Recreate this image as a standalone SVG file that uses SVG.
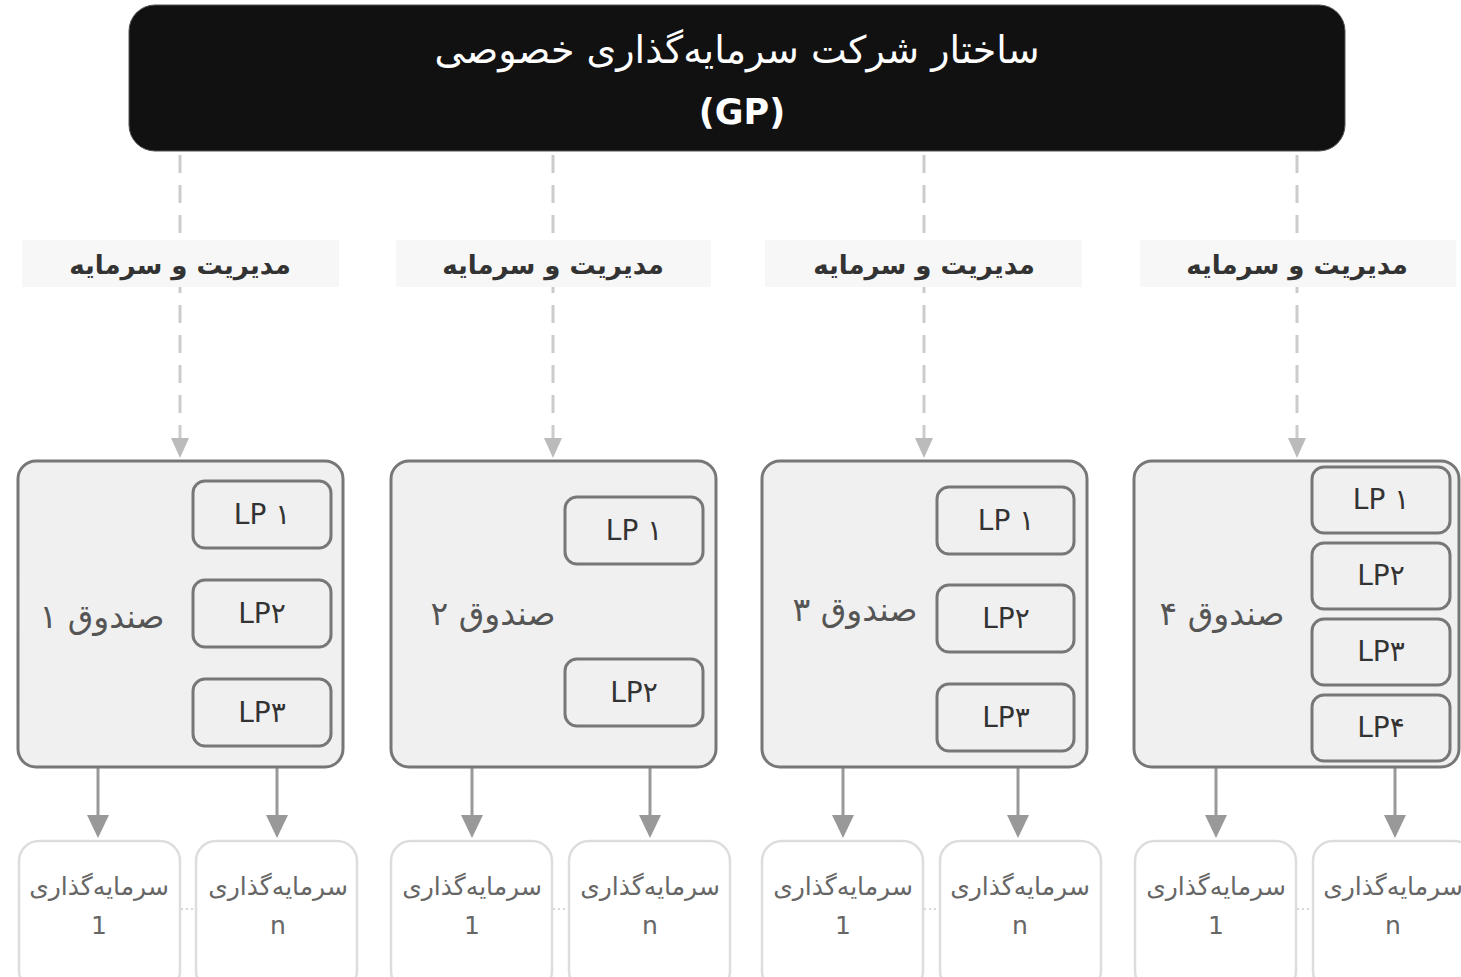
<svg xmlns="http://www.w3.org/2000/svg" width="1461" height="977" viewBox="0 0 1461 977">
<style>
.fa{font-family:"DejaVu Sans","Noto Sans",sans-serif}
.title{fill:#ffffff;font-size:38px}
.gp{fill:#ffffff;font-size:35px;font-weight:bold}
.lbl{fill:#f7f7f7}
.lbltxt{fill:#333333;font-size:26px;font-weight:bold}
.fund{fill:#f0f0f0;stroke:#777777;stroke-width:3}
.lp{fill:#f0f0f0;stroke:#777777;stroke-width:3}
.lptxt{fill:#333333;font-size:28px}
.fundtxt{fill:#555555;font-size:33px}
.inv{fill:#ffffff;stroke:#dddddd;stroke-width:2.5}
.invtxt{fill:#666666;font-size:25px}
.dash{stroke:#cccccc;stroke-width:3;stroke-dasharray:18 12;fill:none}
.solid{stroke:#999999;stroke-width:3;fill:none}
.dot{stroke:#cccccc;stroke-width:1.5;stroke-dasharray:2 3;fill:none}
</style>
<rect width="1461" height="977" fill="#ffffff"/>

<g id="connectors">
  <line class="dash" x1="180" y1="155" x2="180" y2="440"/>
  <line class="dash" x1="553" y1="155" x2="553" y2="440"/>
  <line class="dash" x1="924" y1="155" x2="924" y2="440"/>
  <line class="dash" x1="1297" y1="155" x2="1297" y2="440"/>
  <path d="M171,438 L189,438 L180,458 z" fill="#bbbbbb"/>
  <path d="M544,438 L562,438 L553,458 z" fill="#bbbbbb"/>
  <path d="M915,438 L933,438 L924,458 z" fill="#bbbbbb"/>
  <path d="M1288,438 L1306,438 L1297,458 z" fill="#bbbbbb"/>

  <line class="solid" x1="98" y1="768" x2="98" y2="818"/>
  <line class="solid" x1="277" y1="768" x2="277" y2="818"/>
  <line class="solid" x1="472" y1="768" x2="472" y2="818"/>
  <line class="solid" x1="650" y1="768" x2="650" y2="818"/>
  <line class="solid" x1="843" y1="768" x2="843" y2="818"/>
  <line class="solid" x1="1018" y1="768" x2="1018" y2="818"/>
  <line class="solid" x1="1216" y1="768" x2="1216" y2="818"/>
  <line class="solid" x1="1395" y1="768" x2="1395" y2="818"/>
  <path d="M87,815 L109,815 L98,838 z" fill="#999999"/>
  <path d="M266,815 L288,815 L277,838 z" fill="#999999"/>
  <path d="M461,815 L483,815 L472,838 z" fill="#999999"/>
  <path d="M639,815 L661,815 L650,838 z" fill="#999999"/>
  <path d="M832,815 L854,815 L843,838 z" fill="#999999"/>
  <path d="M1007,815 L1029,815 L1018,838 z" fill="#999999"/>
  <path d="M1205,815 L1227,815 L1216,838 z" fill="#999999"/>
  <path d="M1384,815 L1406,815 L1395,838 z" fill="#999999"/>

  <line class="dot" x1="181" y1="909" x2="196" y2="909"/>
  <line class="dot" x1="553" y1="909" x2="569" y2="909"/>
  <line class="dot" x1="924" y1="909" x2="940" y2="909"/>
  <line class="dot" x1="1297" y1="909" x2="1313" y2="909"/>
</g>

<g id="gp">
  <rect x="129" y="5" width="1216" height="146" rx="26" fill="#111111" stroke="#555555" stroke-width="1"/>
  <text class="fa title" x="737" y="63" text-anchor="middle" direction="rtl">ساختار شرکت سرمایه&#x200C;گذاری خصوصی</text>
  <text class="fa gp" x="742" y="124" text-anchor="middle">(GP)</text>
</g>

<g id="label1"><rect class="lbl" x="22" y="240" width="317" height="47"/><text class="fa lbltxt" x="180" y="274" text-anchor="middle" direction="rtl">مدیریت و سرمایه</text></g>
<g id="label2"><rect class="lbl" x="396" y="240" width="315" height="47"/><text class="fa lbltxt" x="553" y="274" text-anchor="middle" direction="rtl">مدیریت و سرمایه</text></g>
<g id="label3"><rect class="lbl" x="765" y="240" width="317" height="47"/><text class="fa lbltxt" x="924" y="274" text-anchor="middle" direction="rtl">مدیریت و سرمایه</text></g>
<g id="label4"><rect class="lbl" x="1140" y="240" width="316" height="47"/><text class="fa lbltxt" x="1297" y="274" text-anchor="middle" direction="rtl">مدیریت و سرمایه</text></g>

<g id="fund1">
  <rect class="fund" x="18" y="461" width="325" height="306" rx="18"/>
  <text class="fa fundtxt" x="102" y="628" text-anchor="middle" direction="rtl">صندوق ۱</text>
  <rect class="lp" x="193" y="481" width="138" height="67" rx="12"/><text class="fa lptxt" x="262" y="524" text-anchor="middle">LP ۱</text>
  <rect class="lp" x="193" y="580" width="138" height="67" rx="12"/><text class="fa lptxt" x="262" y="623" text-anchor="middle">LP۲</text>
  <rect class="lp" x="193" y="679" width="138" height="67" rx="12"/><text class="fa lptxt" x="262" y="722" text-anchor="middle">LP۳</text>
</g>
<g id="fund2">
  <rect class="fund" x="391" y="461" width="325" height="306" rx="18"/>
  <text class="fa fundtxt" x="493" y="625" text-anchor="middle" direction="rtl">صندوق ۲</text>
  <rect class="lp" x="565" y="497" width="138" height="67" rx="12"/><text class="fa lptxt" x="634" y="540" text-anchor="middle">LP ۱</text>
  <rect class="lp" x="565" y="659" width="138" height="67" rx="12"/><text class="fa lptxt" x="634" y="702" text-anchor="middle">LP۲</text>
</g>
<g id="fund3">
  <rect class="fund" x="762" y="461" width="325" height="306" rx="18"/>
  <text class="fa fundtxt" x="855" y="621" text-anchor="middle" direction="rtl">صندوق ۳</text>
  <rect class="lp" x="937" y="487" width="137" height="67" rx="12"/><text class="fa lptxt" x="1006" y="530" text-anchor="middle">LP ۱</text>
  <rect class="lp" x="937" y="585" width="137" height="67" rx="12"/><text class="fa lptxt" x="1006" y="628" text-anchor="middle">LP۲</text>
  <rect class="lp" x="937" y="684" width="137" height="67" rx="12"/><text class="fa lptxt" x="1006" y="727" text-anchor="middle">LP۳</text>
</g>
<g id="fund4">
  <rect class="fund" x="1134" y="461" width="325" height="306" rx="18"/>
  <text class="fa fundtxt" x="1222" y="625" text-anchor="middle" direction="rtl">صندوق ۴</text>
  <rect class="lp" x="1312" y="467" width="138" height="66" rx="12"/><text class="fa lptxt" x="1381" y="509" text-anchor="middle">LP ۱</text>
  <rect class="lp" x="1312" y="543" width="138" height="66" rx="12"/><text class="fa lptxt" x="1381" y="585" text-anchor="middle">LP۲</text>
  <rect class="lp" x="1312" y="619" width="138" height="66" rx="12"/><text class="fa lptxt" x="1381" y="661" text-anchor="middle">LP۳</text>
  <rect class="lp" x="1312" y="695" width="138" height="66" rx="12"/><text class="fa lptxt" x="1381" y="737" text-anchor="middle">LP۴</text>
</g>

<g id="inv1a"><rect class="inv" x="19" y="841" width="161" height="150" rx="20"/><text class="fa invtxt" x="99" y="895" text-anchor="middle" direction="rtl">سرمایه&#x200C;گذاری</text><text class="fa invtxt" x="99" y="934" text-anchor="middle">1</text></g>
<g id="inv1n"><rect class="inv" x="196" y="841" width="161" height="150" rx="20"/><text class="fa invtxt" x="278" y="895" text-anchor="middle" direction="rtl">سرمایه&#x200C;گذاری</text><text class="fa invtxt" x="278" y="934" text-anchor="middle">n</text></g>
<g id="inv2a"><rect class="inv" x="391" y="841" width="161" height="150" rx="20"/><text class="fa invtxt" x="472" y="895" text-anchor="middle" direction="rtl">سرمایه&#x200C;گذاری</text><text class="fa invtxt" x="472" y="934" text-anchor="middle">1</text></g>
<g id="inv2n"><rect class="inv" x="569" y="841" width="161" height="150" rx="20"/><text class="fa invtxt" x="650" y="895" text-anchor="middle" direction="rtl">سرمایه&#x200C;گذاری</text><text class="fa invtxt" x="650" y="934" text-anchor="middle">n</text></g>
<g id="inv3a"><rect class="inv" x="762" y="841" width="161" height="150" rx="20"/><text class="fa invtxt" x="843" y="895" text-anchor="middle" direction="rtl">سرمایه&#x200C;گذاری</text><text class="fa invtxt" x="843" y="934" text-anchor="middle">1</text></g>
<g id="inv3n"><rect class="inv" x="940" y="841" width="161" height="150" rx="20"/><text class="fa invtxt" x="1020" y="895" text-anchor="middle" direction="rtl">سرمایه&#x200C;گذاری</text><text class="fa invtxt" x="1020" y="934" text-anchor="middle">n</text></g>
<g id="inv4a"><rect class="inv" x="1135" y="841" width="161" height="150" rx="20"/><text class="fa invtxt" x="1216" y="895" text-anchor="middle" direction="rtl">سرمایه&#x200C;گذاری</text><text class="fa invtxt" x="1216" y="934" text-anchor="middle">1</text></g>
<g id="inv4n"><rect class="inv" x="1313" y="841" width="161" height="150" rx="20"/><text class="fa invtxt" x="1393" y="895" text-anchor="middle" direction="rtl">سرمایه&#x200C;گذاری</text><text class="fa invtxt" x="1393" y="934" text-anchor="middle">n</text></g>
</svg>
